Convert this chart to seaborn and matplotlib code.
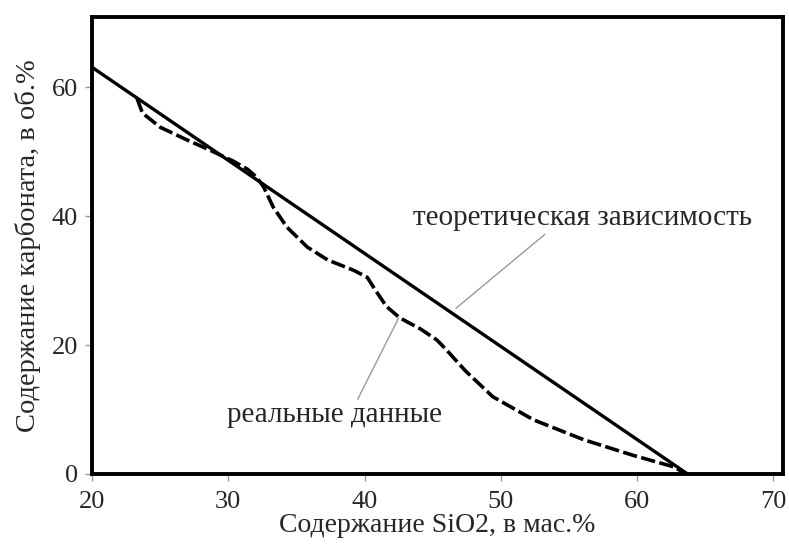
import matplotlib
matplotlib.use("Agg")
import matplotlib.pyplot as plt
import seaborn as sns
import pandas as pd

# theoretical dependence (straight line)
theory_x = [20.0, 63.7]
theory_y = [63.1, 0.0]

# real data (dashed curve)
real_x = [23.3, 23.7, 25.0, 27.0, 28.7, 30.4, 31.4, 32.1, 32.6, 33.3, 34.3, 35.8,
          37.3, 39.2, 40.2, 40.8, 41.6, 42.6, 44.1, 45.3, 45.9, 47.4, 49.4, 52.4,
          56.1, 59.7, 62.7, 63.6]
real_y = [58.3, 56.0, 53.8, 51.8, 50.2, 48.5, 47.3, 46.0, 44.5, 41.4, 38.3, 35.2,
          33.2, 31.6, 30.5, 28.5, 26.0, 24.2, 22.5, 20.8, 19.5, 16.0, 12.0, 8.4,
          5.3, 2.9, 1.1, 0.0]

x_ticks = [20, 30, 40, 50, 60, 70]
y_ticks = [0, 20, 40, 60]

label_theory = "теоретическая зависимость"
label_real = "реальные данные"
x_label = "Содержание SiO2, в мас.%"
y_label = "Содержание карбоната, в об.%"

sns.set_style("white")
plt.rcParams["font.family"] = ["Liberation Serif", "DejaVu Serif"]

fig = plt.figure(figsize=(7.89, 5.44), dpi=100)
ax = fig.add_axes([92/789, 70/544, (783-92)/789, (474-17)/544])

df_t = pd.DataFrame({"x": theory_x, "y": theory_y})
df_r = pd.DataFrame({"x": real_x, "y": real_y})
sns.lineplot(data=df_t, x="x", y="y", sort=False, ax=ax, color="black", lw=2.4)
sns.lineplot(data=df_r, x="x", y="y", sort=False, ax=ax, color="black", lw=2.6,
             dashes=False, linestyle=(0, (4, 1.2)))

ax.set_xlim(20, 70.7)
ax.set_ylim(0, 70.9)
ax.set_xticks(x_ticks)
ax.set_yticks(y_ticks)
ax.tick_params(axis="both", direction="out", length=5, width=1, color="#999999",
               labelsize=19, bottom=True, left=True)
ax.tick_params(axis="x", pad=7)
ax.tick_params(axis="y", pad=5)
for s in ax.spines.values():
    s.set_linewidth(2.8)
    s.set_color("black")

ax.set_xlabel(x_label, fontsize=20, labelpad=0)
ax.set_ylabel(y_label, fontsize=20.5, labelpad=8)

ax.annotate(label_theory, xy=(46.7, 25.7), xytext=(56.0, 39.7),
            ha="center", va="center", fontsize=21,
            arrowprops=dict(arrowstyle="-", color="#999999", lw=1,
                            shrinkA=0, shrinkB=0, relpos=(0.4, 0.0)))
ax.annotate(label_real, xy=(42.5, 24.2), xytext=(37.8, 9.1),
            ha="center", va="center", fontsize=21,
            arrowprops=dict(arrowstyle="-", color="#999999", lw=1,
                            shrinkA=0, shrinkB=0, relpos=(0.6, 1.0)))

fig.savefig("out.png", dpi=100)
